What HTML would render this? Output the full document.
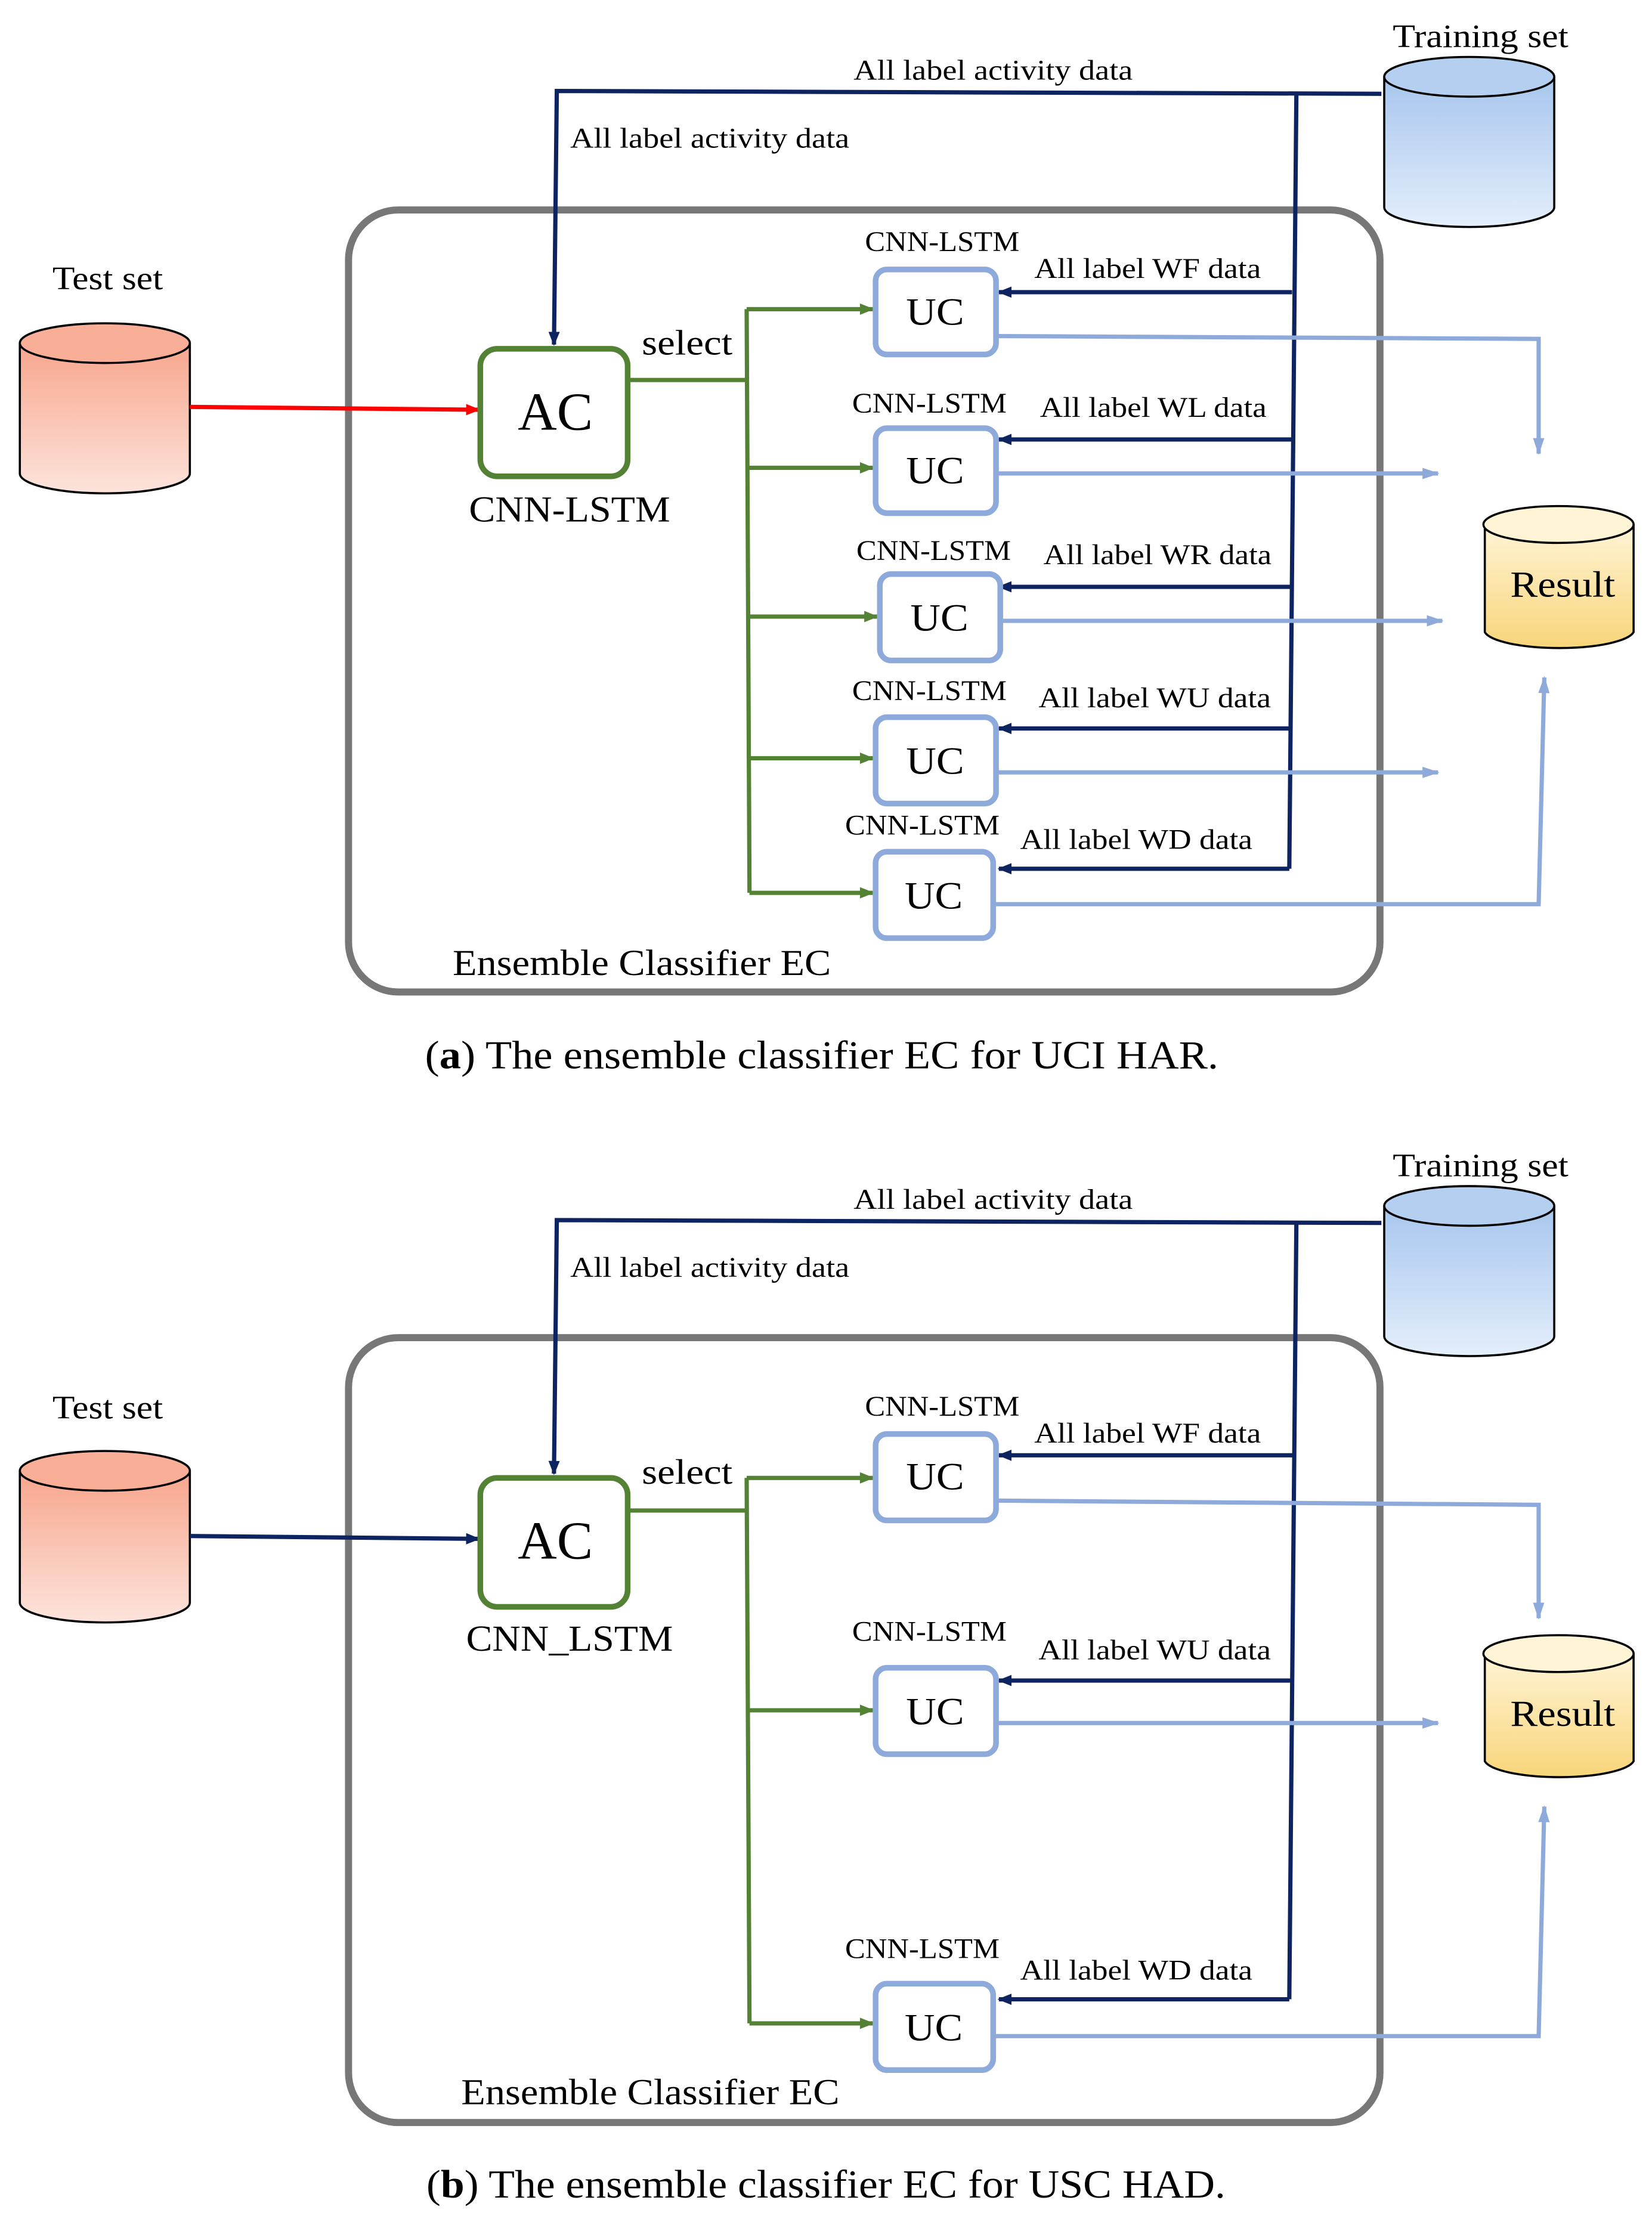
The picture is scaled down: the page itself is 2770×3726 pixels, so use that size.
<!DOCTYPE html>
<html><head><meta charset="utf-8"><style>html,body{margin:0;padding:0;background:#fff}svg{display:block}</style></head>
<body>
<svg width="2770" height="3726" viewBox="0 0 1166 1568" xmlns="http://www.w3.org/2000/svg" font-family="Liberation Serif, serif">
<defs>
<linearGradient id="gb" x1="0" y1="0" x2="0" y2="1"><stop offset="0" stop-color="#a7c6ee"/><stop offset="1" stop-color="#e4eefb"/></linearGradient>
<linearGradient id="gr" x1="0" y1="0" x2="0" y2="1"><stop offset="0" stop-color="#f7a58c"/><stop offset="1" stop-color="#fde4dc"/></linearGradient>
<linearGradient id="gy" x1="0" y1="0" x2="0" y2="1"><stop offset="0" stop-color="#fff4d6"/><stop offset="1" stop-color="#f8d57a"/></linearGradient>
<marker id="an" markerWidth="10" markerHeight="10" refX="9" refY="5" orient="auto" markerUnits="userSpaceOnUse"><path d="M0,1 L10,5 L0,9 Z" fill="#0e2461"/></marker>
<marker id="ag" markerWidth="10" markerHeight="10" refX="9" refY="5" orient="auto" markerUnits="userSpaceOnUse"><path d="M0,1 L10,5 L0,9 Z" fill="#548235"/></marker>
<marker id="al" markerWidth="12" markerHeight="10" refX="11" refY="5" orient="auto" markerUnits="userSpaceOnUse"><path d="M0,1 L12,5 L0,9 Z" fill="#8eaadb"/></marker>
<marker id="ar" markerWidth="10" markerHeight="10" refX="9" refY="5" orient="auto" markerUnits="userSpaceOnUse"><path d="M0,1 L10,5 L0,9 Z" fill="#ff0000"/></marker>
</defs>

<!-- ===== Panel A ===== -->
<g>
<text x="1045" y="33" font-size="23" text-anchor="middle" textLength="124" lengthAdjust="spacingAndGlyphs">Training set</text>
<path d="M977,54 L977,146 A60,14 0 0 0 1097,146 L1097,54" fill="url(#gb)" stroke="#000" stroke-width="1.5"/>
<ellipse cx="1037" cy="54" rx="60" ry="14" fill="#b5cff1" stroke="#000" stroke-width="1.5"/>

<text x="76" y="204" font-size="23" text-anchor="middle" textLength="78" lengthAdjust="spacingAndGlyphs">Test set</text>
<path d="M14,242 L14,334 A60,14 0 0 0 134,334 L134,242" fill="url(#gr)" stroke="#000" stroke-width="1.5"/>
<ellipse cx="74" cy="242" rx="60" ry="14" fill="#f8ae97" stroke="#000" stroke-width="1.5"/>

<path d="M1048,370 L1048,446 A53,13 0 0 0 1153,446 L1153,370" fill="url(#gy)" stroke="#000" stroke-width="1.5"/>
<ellipse cx="1100" cy="370" rx="53" ry="13" fill="#fff4d6" stroke="#000" stroke-width="1.5"/>
<text x="1103" y="421" font-size="26" text-anchor="middle" textLength="74" lengthAdjust="spacingAndGlyphs">Result</text>

<rect x="246" y="148" width="728" height="552" rx="35" fill="none" stroke="#777" stroke-width="5"/>

<path d="M975,66 L393,64 L391,243" fill="none" stroke="#0e2461" stroke-width="3" marker-end="url(#an)"/>
<text x="701" y="56" font-size="20" text-anchor="middle" textLength="197" lengthAdjust="spacingAndGlyphs">All label activity data</text>
<text x="501" y="104" font-size="20" text-anchor="middle" textLength="197" lengthAdjust="spacingAndGlyphs">All label activity data</text>
<path d="M915,66 L910,613" fill="none" stroke="#0e2461" stroke-width="3"/>
<g stroke="#0e2461" stroke-width="3" marker-end="url(#an)">
<line x1="912" y1="206" x2="705" y2="206"/>
<line x1="912" y1="310" x2="705" y2="310"/>
<line x1="912" y1="414" x2="705" y2="414"/>
<line x1="912" y1="514" x2="705" y2="514"/>
<line x1="910" y1="613" x2="705" y2="613"/>
</g>
<g font-size="20" text-anchor="middle" lengthAdjust="spacingAndGlyphs">
<text x="810" y="196" textLength="160" lengthAdjust="spacingAndGlyphs">All label WF data</text>
<text x="814" y="294" textLength="160" lengthAdjust="spacingAndGlyphs">All label WL data</text>
<text x="817" y="398" textLength="161" lengthAdjust="spacingAndGlyphs">All label WR data</text>
<text x="815" y="499" textLength="164" lengthAdjust="spacingAndGlyphs">All label WU data</text>
<text x="802" y="599" textLength="164" lengthAdjust="spacingAndGlyphs">All label WD data</text>
</g>

<line x1="134" y1="287" x2="338" y2="289" stroke="#ff0000" stroke-width="3" marker-end="url(#ar)"/>
<rect x="339" y="246" width="104" height="90" rx="12" fill="#fff" stroke="#548235" stroke-width="4"/>
<text x="392" y="303" font-size="38" text-anchor="middle" textLength="53" lengthAdjust="spacingAndGlyphs">AC</text>
<text x="402" y="368" font-size="26" text-anchor="middle" textLength="142" lengthAdjust="spacingAndGlyphs">CNN-LSTM</text>
<text x="485" y="250" font-size="25" text-anchor="middle" textLength="64" lengthAdjust="spacingAndGlyphs">select</text>

<path d="M444,268 L527,268 M527,218 L529,630" fill="none" stroke="#548235" stroke-width="3"/>
<g stroke="#548235" stroke-width="3" marker-end="url(#ag)">
<line x1="527" y1="218" x2="616" y2="218"/>
<line x1="527" y1="330" x2="616" y2="330"/>
<line x1="528" y1="435" x2="619" y2="435"/>
<line x1="528" y1="535" x2="616" y2="535"/>
<line x1="529" y1="630" x2="616" y2="630"/>
</g>

<g fill="#fff" stroke="#8eaadb" stroke-width="4">
<rect x="618" y="190" width="85" height="60" rx="8"/>
<rect x="618" y="302" width="85" height="60" rx="8"/>
<rect x="621" y="405" width="85" height="61" rx="8"/>
<rect x="618" y="506" width="85" height="61" rx="8"/>
<rect x="618" y="601" width="83" height="61" rx="8"/>
</g>
<g font-size="27" text-anchor="middle">
<text x="660" y="229" textLength="41" lengthAdjust="spacingAndGlyphs">UC</text><text x="660" y="341" textLength="41" lengthAdjust="spacingAndGlyphs">UC</text><text x="663" y="445" textLength="41" lengthAdjust="spacingAndGlyphs">UC</text><text x="660" y="546" textLength="41" lengthAdjust="spacingAndGlyphs">UC</text><text x="659" y="641" textLength="41" lengthAdjust="spacingAndGlyphs">UC</text>
</g>
<g font-size="20" text-anchor="middle">
<text x="665" y="177" textLength="109" lengthAdjust="spacingAndGlyphs">CNN-LSTM</text><text x="656" y="291" textLength="109" lengthAdjust="spacingAndGlyphs">CNN-LSTM</text><text x="659" y="395" textLength="109" lengthAdjust="spacingAndGlyphs">CNN-LSTM</text><text x="656" y="494" textLength="109" lengthAdjust="spacingAndGlyphs">CNN-LSTM</text><text x="651" y="589" textLength="109" lengthAdjust="spacingAndGlyphs">CNN-LSTM</text>
</g>

<g fill="none" stroke="#8eaadb" stroke-width="3" marker-end="url(#al)">
<path d="M703,237 L1086,239 L1086,320"/>
<line x1="703" y1="334" x2="1015" y2="334"/>
<line x1="706" y1="438" x2="1018" y2="438"/>
<line x1="703" y1="545" x2="1015" y2="545"/>
<path d="M701,638 L1086,638 L1090,478"/>
</g>

<text x="453" y="688" font-size="26" text-anchor="middle" textLength="267" lengthAdjust="spacingAndGlyphs">Ensemble Classifier EC</text>
<text x="580" y="754" font-size="28" text-anchor="middle" textLength="560" lengthAdjust="spacingAndGlyphs">(<tspan font-weight="bold">a</tspan>) The ensemble classifier EC for UCI HAR.</text>
</g>

<!-- ===== Panel B ===== -->
<g>
<text x="1045" y="830" font-size="23" text-anchor="middle" textLength="124" lengthAdjust="spacingAndGlyphs">Training set</text>
<path d="M977,851 L977,943 A60,14 0 0 0 1097,943 L1097,851" fill="url(#gb)" stroke="#000" stroke-width="1.5"/>
<ellipse cx="1037" cy="851" rx="60" ry="14" fill="#b5cff1" stroke="#000" stroke-width="1.5"/>

<text x="76" y="1001" font-size="23" text-anchor="middle" textLength="78" lengthAdjust="spacingAndGlyphs">Test set</text>
<path d="M14,1038 L14,1131 A60,14 0 0 0 134,1131 L134,1038" fill="url(#gr)" stroke="#000" stroke-width="1.5"/>
<ellipse cx="74" cy="1038" rx="60" ry="14" fill="#f8ae97" stroke="#000" stroke-width="1.5"/>

<path d="M1048,1167 L1048,1243 A53,13 0 0 0 1153,1243 L1153,1167" fill="url(#gy)" stroke="#000" stroke-width="1.5"/>
<ellipse cx="1100" cy="1167" rx="53" ry="13" fill="#fff4d6" stroke="#000" stroke-width="1.5"/>
<text x="1103" y="1218" font-size="26" text-anchor="middle" textLength="74" lengthAdjust="spacingAndGlyphs">Result</text>

<rect x="246" y="944" width="728" height="554" rx="35" fill="none" stroke="#777" stroke-width="5"/>

<path d="M975,863 L393,861 L391,1040" fill="none" stroke="#0e2461" stroke-width="3" marker-end="url(#an)"/>
<text x="701" y="853" font-size="20" text-anchor="middle" textLength="197" lengthAdjust="spacingAndGlyphs">All label activity data</text>
<text x="501" y="901" font-size="20" text-anchor="middle" textLength="197" lengthAdjust="spacingAndGlyphs">All label activity data</text>
<path d="M915,863 L910,1411" fill="none" stroke="#0e2461" stroke-width="3"/>
<g stroke="#0e2461" stroke-width="3" marker-end="url(#an)">
<line x1="913" y1="1027" x2="705" y2="1027"/>
<line x1="911" y1="1186" x2="705" y2="1186"/>
<line x1="910" y1="1411" x2="705" y2="1411"/>
</g>
<g font-size="20" text-anchor="middle">
<text x="810" y="1018" textLength="160" lengthAdjust="spacingAndGlyphs">All label WF data</text>
<text x="815" y="1171" textLength="164" lengthAdjust="spacingAndGlyphs">All label WU data</text>
<text x="802" y="1397" textLength="164" lengthAdjust="spacingAndGlyphs">All label WD data</text>
</g>

<line x1="134" y1="1084" x2="338" y2="1086" stroke="#0e2461" stroke-width="3" marker-end="url(#an)"/>
<rect x="339" y="1043" width="104" height="91" rx="12" fill="#fff" stroke="#548235" stroke-width="4"/>
<text x="392" y="1100" font-size="38" text-anchor="middle" textLength="53" lengthAdjust="spacingAndGlyphs">AC</text>
<text x="402" y="1165" font-size="26" text-anchor="middle" textLength="146" lengthAdjust="spacingAndGlyphs">CNN_LSTM</text>
<text x="485" y="1047" font-size="25" text-anchor="middle" textLength="64" lengthAdjust="spacingAndGlyphs">select</text>

<path d="M444,1066 L527,1066 M527,1043 L529,1428" fill="none" stroke="#548235" stroke-width="3"/>
<g stroke="#548235" stroke-width="3" marker-end="url(#ag)">
<line x1="527" y1="1043" x2="616" y2="1043"/>
<line x1="528" y1="1207" x2="616" y2="1207"/>
<line x1="529" y1="1428" x2="616" y2="1428"/>
</g>

<g fill="#fff" stroke="#8eaadb" stroke-width="4">
<rect x="618" y="1012" width="85" height="61" rx="8"/>
<rect x="618" y="1177" width="85" height="61" rx="8"/>
<rect x="618" y="1400" width="83" height="61" rx="8"/>
</g>
<g font-size="27" text-anchor="middle">
<text x="660" y="1051" textLength="41" lengthAdjust="spacingAndGlyphs">UC</text><text x="660" y="1217" textLength="41" lengthAdjust="spacingAndGlyphs">UC</text><text x="659" y="1440" textLength="41" lengthAdjust="spacingAndGlyphs">UC</text>
</g>
<g font-size="20" text-anchor="middle">
<text x="665" y="999" textLength="109" lengthAdjust="spacingAndGlyphs">CNN-LSTM</text><text x="656" y="1158" textLength="109" lengthAdjust="spacingAndGlyphs">CNN-LSTM</text><text x="651" y="1382" textLength="109" lengthAdjust="spacingAndGlyphs">CNN-LSTM</text>
</g>

<g fill="none" stroke="#8eaadb" stroke-width="3" marker-end="url(#al)">
<path d="M703,1059 L1086,1062 L1086,1142"/>
<line x1="703" y1="1216" x2="1015" y2="1216"/>
<path d="M701,1437 L1086,1437 L1090,1275"/>
</g>

<text x="459" y="1485" font-size="26" text-anchor="middle" textLength="267" lengthAdjust="spacingAndGlyphs">Ensemble Classifier EC</text>
<text x="583" y="1551" font-size="28" text-anchor="middle" textLength="564" lengthAdjust="spacingAndGlyphs">(<tspan font-weight="bold">b</tspan>) The ensemble classifier EC for USC HAD.</text>
</g>
</svg>
</body></html>
